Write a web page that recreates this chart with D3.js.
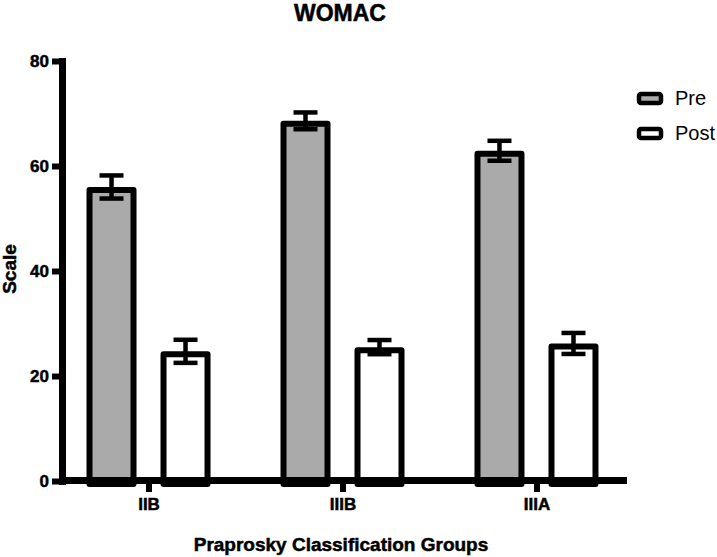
<!DOCTYPE html>
<html>
<head>
<meta charset="utf-8">
<script src="https://cdn.jsdelivr.net/npm/d3@7"></script>
<style>
  body { margin: 0; background: #fff; }
  text { font-family: "Liberation Sans", Arial, Helvetica, sans-serif; }
  .heavy { stroke: #000; stroke-width: 0.5px; }
</style>
</head>
<body>
<svg id="chart" width="717" height="557"></svg>
<script>
// data
var groups = ["IIB", "IIIB", "IIIA"];
var series = ["Pre", "Post"];
var preMean = [56.0, 68.6, 62.9];
var preErr = [2.2, 1.6, 1.9];
var postMean = [24.7, 25.5, 26.2];
var postErr = [2.2, 1.35, 2.0];
var yTicks = [0, 20, 40, 60, 80];
var fills = { Pre: "#aaaaaa", Post: "#ffffff" };

var svg = d3.select("#chart");
var strokeW = 6;

var yScale = d3.scaleLinear().domain([0, 80]).range([481, 61]);
var xScale = d3.scalePoint().domain(groups).range([62, 623]).padding(0.446);
var inner = d3.scalePoint().domain(series).range([-37, 37]);
var barW = 50;

var rows = [];
groups.forEach(function (g, i) {
  rows.push({ group: g, key: "Pre", v: preMean[i], e: preErr[i] });
  rows.push({ group: g, key: "Post", v: postMean[i], e: postErr[i] });
});

// bars (stroke kept inside the value)
svg.append("g").selectAll("rect").data(rows).enter().append("rect")
  .attr("x", d => xScale(d.group) + inner(d.key) - barW / 2 + strokeW / 2)
  .attr("y", d => yScale(d.v) + strokeW / 2)
  .attr("width", barW - strokeW)
  .attr("height", d => yScale(0) - yScale(d.v))
  .attr("fill", d => fills[d.key])
  .attr("stroke", "#000")
  .attr("stroke-width", strokeW)
  .attr("stroke-linejoin", "round");

// error bars
var eb = svg.append("g").attr("stroke", "#000").attr("stroke-width", 4.5);
rows.forEach(function (d) {
  var cx = xScale(d.group) + inner(d.key);
  eb.append("line").attr("x1", cx).attr("x2", cx)
    .attr("y1", yScale(d.v + d.e)).attr("y2", yScale(d.v - d.e));
  [d.v + d.e, d.v - d.e].forEach(function (t) {
    eb.append("line").attr("x1", cx - 12).attr("x2", cx + 12)
      .attr("y1", yScale(t)).attr("y2", yScale(t));
  });
});

// axes
var yAxis = d3.axisLeft(yScale).tickValues(yTicks).tickSize(10).tickSizeOuter(0).tickPadding(3);
var yAxisG = svg.append("g").attr("transform", "translate(62,0)").call(yAxis);
yAxisG.select(".domain").attr("stroke-width", 7).attr("stroke-linecap", "square");
yAxisG.selectAll(".tick line").attr("stroke-width", 6);
yAxisG.selectAll(".tick text").attr("font-size", 17).attr("font-weight", "bold").attr("class", "heavy")
  .attr("font-family", "Liberation Sans, Arial, sans-serif").attr("fill", "#000");

var xAxis = d3.axisBottom(xScale).tickSize(12).tickSizeOuter(0).tickPadding(6);
var xAxisG = svg.append("g").attr("transform", "translate(0,480)").call(xAxis);
xAxisG.select(".domain").attr("stroke-width", 7).attr("stroke-linecap", "square");
xAxisG.selectAll(".tick line").attr("stroke-width", 6);
xAxisG.selectAll(".tick text").attr("font-size", 17).attr("font-weight", "bold").attr("class", "heavy")
  .attr("font-family", "Liberation Sans, Arial, sans-serif").attr("fill", "#000");

// titles
svg.append("text").attr("class", "heavy").attr("x", 340).attr("y", 21).attr("text-anchor", "middle")
  .attr("font-size", 23).attr("font-weight", "bold").text("WOMAC");
svg.append("text").attr("class", "heavy").attr("transform", "translate(16,269) rotate(-90)").attr("text-anchor", "middle")
  .attr("font-size", 19).attr("font-weight", "bold").text("Scale");
svg.append("text").attr("class", "heavy").attr("x", 341).attr("y", 551).attr("text-anchor", "middle")
  .attr("font-size", 19).attr("font-weight", "bold").text("Praprosky Classification Groups");

// legend
var legend = svg.append("g").selectAll("g").data(series).enter().append("g")
  .attr("transform", (d, i) => "translate(637," + (92 + i * 35) + ")");
legend.append("rect").attr("x", 2).attr("y", 2).attr("width", 22).attr("height", 9).attr("rx", 2)
  .attr("fill", d => fills[d]).attr("stroke", "#000").attr("stroke-width", 4.5);
legend.append("text").attr("x", 38).attr("y", 13).attr("font-size", 20).text(d => d);
</script>
</body>
</html>
